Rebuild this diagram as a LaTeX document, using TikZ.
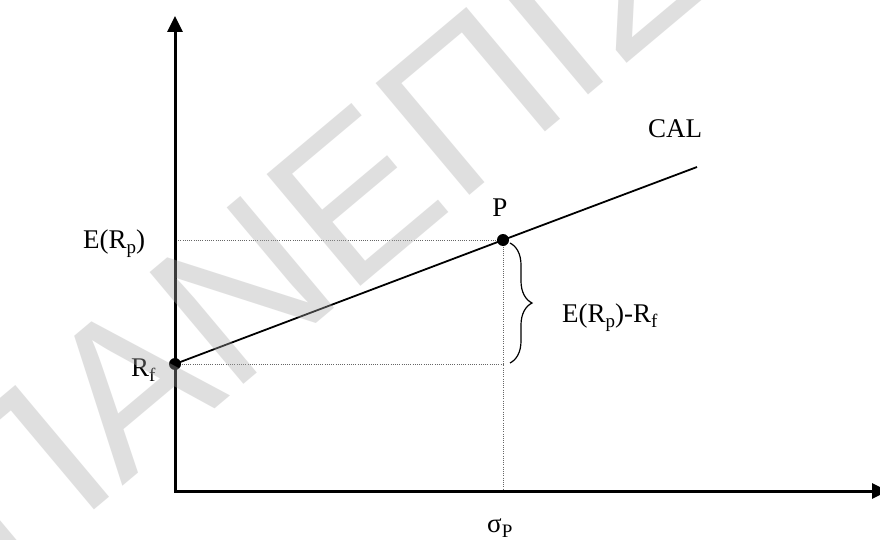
\documentclass[tikz,border=0pt]{standalone}
\usepackage{fontspec}
\setmainfont{Liberation Serif}
\newfontfamily\wmfont{Liberation Sans}
\usetikzlibrary{arrows.meta,decorations.pathreplacing}
\newcommand\sbs[1]{\raisebox{-5pt}{\fontsize{19}{19}\selectfont #1}}
\begin{document}
\begin{tikzpicture}[x=1pt,y=-1pt,
  lbl/.style={inner sep=0pt, font=\fontsize{27}{30}\selectfont, anchor=base west},
  axisline/.style={line width=3pt, {Triangle[length=16pt,width=15pt]}-{Triangle[length=16pt,width=15pt]}},
  calline/.style={line width=1.8pt},
  guide/.style={line width=0.7pt, black!60, dash pattern=on 1pt off 1.2pt},
  dotnode/.style={circle, fill=black, inner sep=0pt, minimum size=12pt},
  bracestyle/.style={line width=1.2pt, decorate, decoration={brace, amplitude=22pt}},
  watermark/.style={rotate=40, anchor=base west, inner sep=0pt, text=black!34, text opacity=0.36,
    font=\wmfont\fontsize{212}{212}\selectfont}]
\useasboundingbox (0,0) rectangle (880,540);
\fill[white] (0,0) rectangle (880,540);
% coordinates
\coordinate (O) at (175,491);
\coordinate (ytip) at (175,16);
\coordinate (xtip) at (888,491);
\coordinate (rf) at (175,364);
\coordinate (p) at (503,240);
\coordinate (calend) at (697,167);
\coordinate (ey) at (176,240);
\coordinate (px) at (503,491);
\coordinate (rfx) at (503,364);
\coordinate (bt) at (510,243);
\coordinate (bb) at (510,363);
% guides
\draw[guide] (ey) -- (p);
\draw[guide] (rf) -- (rfx);
\draw[guide] (p) -- (px);
% axes
\draw[axisline] (ytip) -- (O) -- (xtip);
% CAL
\draw[calline] (rf) -- (p) -- (calend);
% brace
\draw[bracestyle] (bt) -- (bb);
% dots
\node[dotnode] (Rf) at (rf) {};
\node[dotnode] (P) at (p) {};
% labels
\node[lbl] (lE) at (83,248) {E(R\sbs{p})};
\node[lbl] (lRf) at (131,376) {R\sbs{f}};
\node[lbl, anchor=base] (lP) at (500,216) {P};
\node[lbl] (lCAL) at (648,138) {CAL};
\node[lbl] (lD) at (562,322) {E(R\sbs{p})-R\sbs{f}};
\node[lbl] (lsig) at (487,532) {σ\sbs{P}};
% watermark
\node[watermark] (wm) at (5,585) {ΠΑΝΕΠΙΣΤΗΜΙΟ};
\end{tikzpicture}
\end{document}
